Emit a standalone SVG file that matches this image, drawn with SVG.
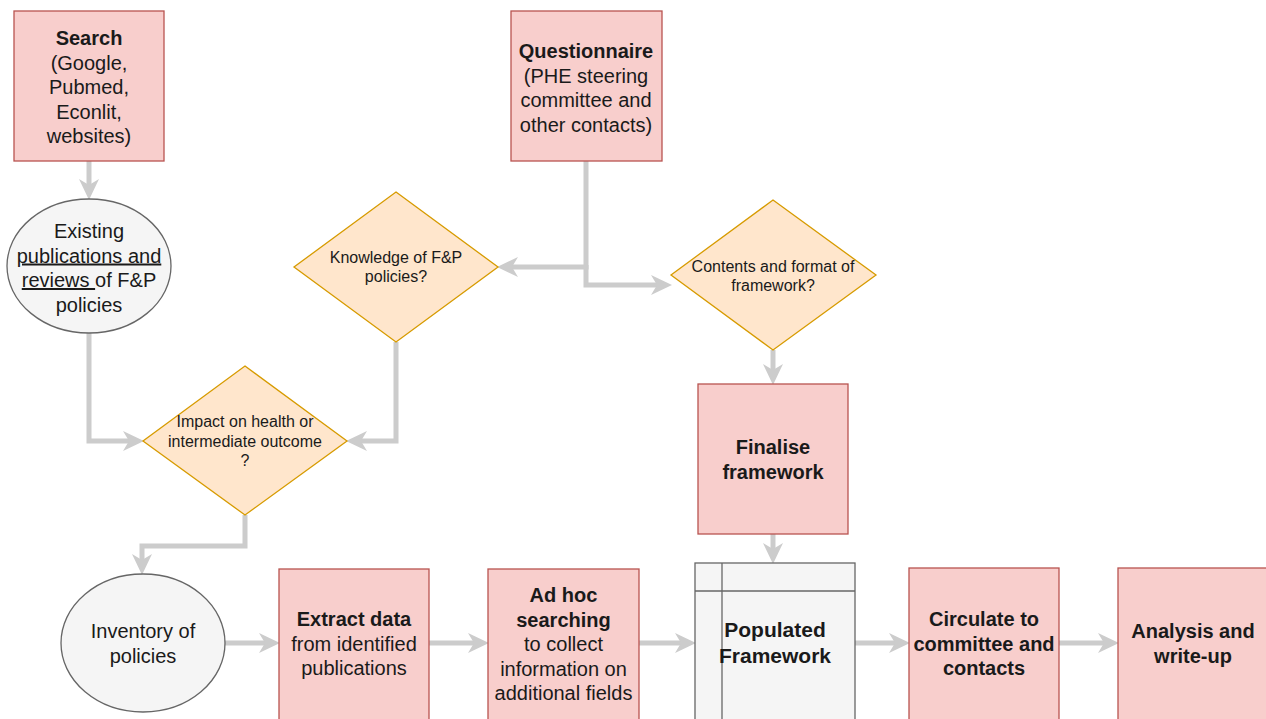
<svg xmlns="http://www.w3.org/2000/svg" width="1266" height="719" viewBox="0 0 1266 719">
<style>
.pk{fill:#f8cecc;stroke:#b85450;stroke-width:1.3}
.dm{fill:#ffe6cc;stroke:#d79b00;stroke-width:1.3}
.gr{fill:#f5f5f5;stroke:#666666;stroke-width:1.3}
.t{font-family:"Liberation Sans",Arial,sans-serif;font-size:20px;fill:#1a1a1a;text-anchor:middle}
.s{font-size:16px}
.b{font-weight:bold}
.c{fill:none;stroke:#cccccc;stroke-width:5}
</style>
<defs>
<marker id="ah" markerUnits="userSpaceOnUse" markerWidth="24" markerHeight="24" refX="10" refY="11" orient="auto" viewBox="0 0 24 22">
<path d="M0,1 L21,11 L0,21 L6,11 Z" fill="#cccccc"/>
</marker>
</defs>
<rect width="1266" height="719" fill="#ffffff"/>
<g id="connectors">
<path class="c" marker-end="url(#ah)" d="M89,161 V189"/>
<path class="c" marker-end="url(#ah)" d="M89,333 V441 H133"/>
<path class="c" marker-end="url(#ah)" d="M396,342 V441 H357"/>
<path class="c" marker-end="url(#ah)" d="M586,161 V267 H508"/>
<path class="c" marker-end="url(#ah)" d="M586,265 V285 H661"/>
<path class="c" marker-end="url(#ah)" d="M773,350 V374"/>
<path class="c" marker-end="url(#ah)" d="M773,534 V553"/>
<path class="c" marker-end="url(#ah)" d="M245,515 V546 H142 V564"/>
<path class="c" marker-end="url(#ah)" d="M225,643 H269"/>
<path class="c" marker-end="url(#ah)" d="M429,643 H478"/>
<path class="c" marker-end="url(#ah)" d="M639,643 H685"/>
<path class="c" marker-end="url(#ah)" d="M855,643 H899"/>
<path class="c" marker-end="url(#ah)" d="M1059,643 H1108"/>
</g>
<g id="search">
<rect class="pk" x="14" y="11" width="150" height="150"/>
<text class="t" x="89" y="45"><tspan class="b">Search</tspan><tspan x="89" dy="24.5">(Google,</tspan><tspan x="89" dy="24.5">Pubmed,</tspan><tspan x="89" dy="24.5">Econlit,</tspan><tspan x="89" dy="24.5">websites)</tspan></text>
</g>
<g id="questionnaire">
<rect class="pk" x="511" y="11" width="151" height="150"/>
<text class="t" x="586" y="58"><tspan class="b">Questionnaire</tspan><tspan x="586" dy="24.5">(PHE steering</tspan><tspan x="586" dy="24.5">committee and</tspan><tspan x="586" dy="24.5">other contacts)</tspan></text>
</g>
<g id="existing">
<ellipse class="gr" cx="89" cy="266" rx="82" ry="67"/>
<text class="t" x="89" y="238"><tspan>Existing</tspan><tspan x="89" dy="24.5" text-decoration="underline">publications and</tspan><tspan x="89" dy="24.5"><tspan text-decoration="underline">reviews </tspan>of F&amp;P</tspan><tspan x="89" dy="24.5">policies</tspan></text>
</g>
<g id="knowledge">
<polygon class="dm" points="396,192 498,267 396,342 294,267"/>
<text class="t s" x="396" y="263"><tspan>Knowledge of F&amp;P</tspan><tspan x="396" dy="19">policies?</tspan></text>
</g>
<g id="contents">
<polygon class="dm" points="773,200 876,275 773,350 671,275"/>
<text class="t s" x="773" y="272"><tspan>Contents and format of</tspan><tspan x="773" dy="19">framework?</tspan></text>
</g>
<g id="impact">
<polygon class="dm" points="245,366 347,441 245,515 143,441"/>
<text class="t s" x="245" y="427"><tspan>Impact on health or</tspan><tspan x="245" dy="19.5">intermediate outcome</tspan><tspan x="245" dy="19.5">?</tspan></text>
</g>
<g id="finalise">
<rect class="pk" x="698" y="384" width="150" height="150"/>
<text class="t b" x="773" y="454"><tspan>Finalise</tspan><tspan x="773" dy="25">framework</tspan></text>
</g>
<g id="inventory">
<ellipse class="gr" cx="143" cy="643" rx="82" ry="69"/>
<text class="t" x="143" y="638"><tspan>Inventory of</tspan><tspan x="143" dy="25">policies</tspan></text>
</g>
<g id="extract">
<rect class="pk" x="279" y="569" width="150" height="160"/>
<text class="t" x="354" y="626"><tspan class="b">Extract data</tspan><tspan x="354" dy="24.5">from identified</tspan><tspan x="354" dy="24.5">publications</tspan></text>
</g>
<g id="adhoc">
<rect class="pk" x="488" y="569" width="151" height="160"/>
<text class="t" x="563.5" y="602"><tspan class="b">Ad hoc</tspan><tspan class="b" x="563.5" dy="24.5">searching</tspan><tspan x="563.5" dy="24.5">to collect</tspan><tspan x="563.5" dy="24.5">information on</tspan><tspan x="563.5" dy="24.5">additional fields</tspan></text>
</g>
<g id="populated">
<rect class="gr" x="695" y="563" width="160" height="170"/>
<line x1="695" y1="591" x2="855" y2="591" stroke="#666666" stroke-width="1.3"/>
<line x1="722" y1="563" x2="722" y2="733" stroke="#666666" stroke-width="1.3"/>
<text class="t b" x="775" y="637" style="font-size:21px"><tspan>Populated</tspan><tspan x="775" dy="26">Framework</tspan></text>
</g>
<g id="circulate">
<rect class="pk" x="909" y="568" width="150" height="160"/>
<text class="t b" x="984" y="626"><tspan>Circulate to</tspan><tspan x="984" dy="24.5">committee and</tspan><tspan x="984" dy="24.5">contacts</tspan></text>
</g>
<g id="analysis">
<rect class="pk" x="1118" y="568" width="150" height="160"/>
<text class="t b" x="1193" y="638"><tspan>Analysis and</tspan><tspan x="1193" dy="25">write-up</tspan></text>
</g>
</svg>
